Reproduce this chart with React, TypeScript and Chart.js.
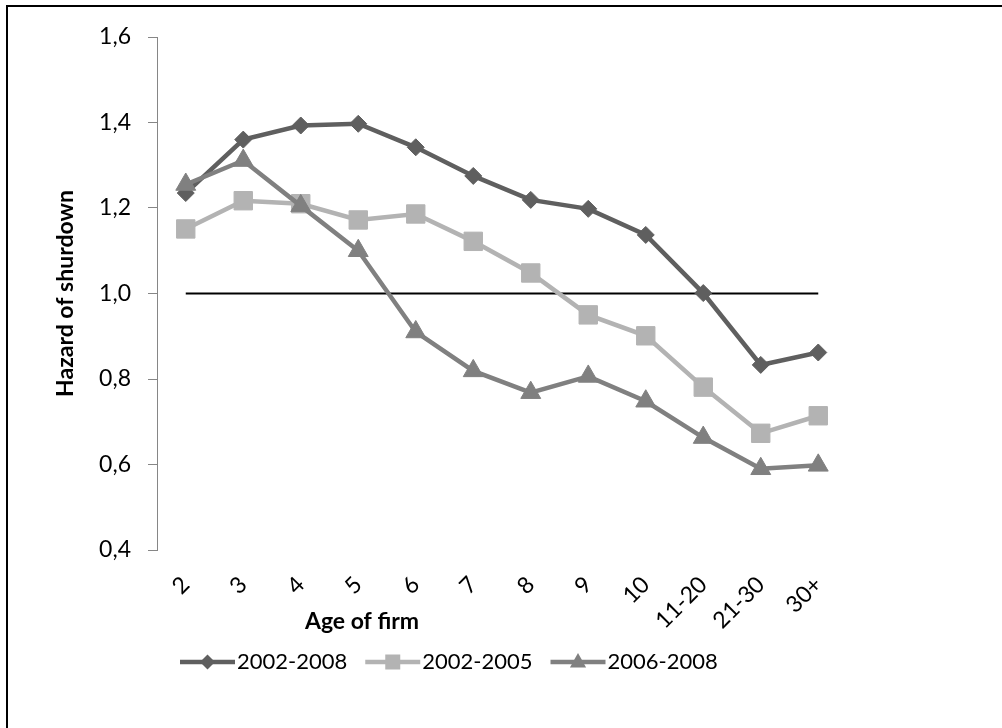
import React, { useEffect, useRef } from "react";
import { Chart, registerables } from "chart.js";

Chart.register(...registerables);

const categories = ["2", "3", "4", "5", "6", "7", "8", "9", "10", "11-20", "21-30", "30+"];
const series2002_2008 = [1.235, 1.36, 1.393, 1.397, 1.342, 1.275, 1.219, 1.198, 1.137, 1.001, 0.833, 0.862];
const series2002_2005 = [1.151, 1.217, 1.21, 1.172, 1.186, 1.122, 1.048, 0.95, 0.901, 0.781, 0.673, 0.714];
const series2006_2008 = [1.255, 1.311, 1.205, 1.1, 0.91, 0.819, 0.768, 0.806, 0.748, 0.663, 0.59, 0.598];
const referenceLine = [1, 1, 1, 1, 1, 1, 1, 1, 1, 1, 1, 1];
const seriesNames = ["2002-2008", "2002-2005", "2006-2008"];
const yMin = 0.4;
const yMax = 1.6;
const yStep = 0.2;
const yTitle = "Hazard of shurdown";
const xTitle = "Age of firm";

const FONT = "Lato, 'Open Sans', sans-serif";
const C1 = "#5f5f5f";
const C2 = "#b3b3b3";
const C3 = "#808080";

function drawMarker(ctx: CanvasRenderingContext2D, style: string, x: number, y: number, r: number, color: string) {
  ctx.save();
  ctx.fillStyle = color;
  ctx.beginPath();
  if (style === "rectRot") {
    ctx.moveTo(x, y - r);
    ctx.lineTo(x + r, y);
    ctx.lineTo(x, y + r);
    ctx.lineTo(x - r, y);
  } else if (style === "rect") {
    ctx.rect(x - r, y - r, 2 * r, 2 * r);
  } else {
    ctx.moveTo(x, y - r);
    ctx.lineTo(x + r * 0.9, y + r * 0.6);
    ctx.lineTo(x - r * 0.9, y + r * 0.6);
  }
  ctx.closePath();
  ctx.fill();
  ctx.restore();
}

const extrasPlugin = {
  id: "extras",
  afterDraw(chart: any) {
    const ctx: CanvasRenderingContext2D = chart.ctx;
    ctx.save();
    ctx.font = `bold 23px ${FONT}`;
    ctx.fillStyle = "#000";
    ctx.textAlign = "center";
    ctx.textBaseline = "middle";
    ctx.fillText(xTitle, 362, 622);
    ctx.font = `22px ${FONT}`;
    ctx.textAlign = "left";
    let x = 180;
    const y = 662;
    const legendSizes = [7.5, 7.5, 9];
    for (let i = 0; i < seriesNames.length; i++) {
      const ds = chart.data.datasets[i];
      ctx.strokeStyle = ds.borderColor;
      ctx.lineWidth = 4.5;
      ctx.beginPath();
      ctx.moveTo(x, y);
      ctx.lineTo(x + 55, y);
      ctx.stroke();
      drawMarker(ctx, ds.pointStyle, x + 27.5, y, legendSizes[i], ds.borderColor);
      ctx.fillStyle = "#000";
      ctx.fillText(ds.label, x + 57, y);
      x += 57 + ctx.measureText(ds.label).width + 18;
    }
    ctx.restore();
  },
};

export default function App() {
  const ref = useRef<HTMLCanvasElement | null>(null);
  useEffect(() => {
    if (!ref.current) return;
    const chart = new Chart(ref.current, {
      type: "line",
      data: {
        labels: categories,
        datasets: [
          {
            label: seriesNames[0],
            data: series2002_2008,
            borderColor: C1,
            backgroundColor: C1,
            borderWidth: 4.5,
            pointStyle: "rectRot",
            pointRadius: 8.5,
            pointBorderWidth: 1,
            pointBackgroundColor: C1,
            pointBorderColor: C1,
            order: 3,
          },
          {
            label: seriesNames[1],
            data: series2002_2005,
            borderColor: C2,
            backgroundColor: C2,
            borderWidth: 4.5,
            pointStyle: "rect",
            pointRadius: 13,
            pointBorderWidth: 1,
            pointBackgroundColor: C2,
            pointBorderColor: C2,
            order: 2,
          },
          {
            label: seriesNames[2],
            data: series2006_2008,
            borderColor: C3,
            backgroundColor: C3,
            borderWidth: 4.5,
            pointStyle: "triangle",
            pointRadius: 11.5,
            pointBorderWidth: 1,
            pointBackgroundColor: C3,
            pointBorderColor: C3,
            order: 1,
          },
          {
            label: "ref",
            data: referenceLine,
            borderColor: "#000",
            borderWidth: 2,
            pointRadius: 0,
            order: 4,
          },
        ],
      },
      options: {
        responsive: false,
        animation: false,
        layout: { padding: { left: 52, right: 155, top: 37, bottom: 0 } },
        plugins: {
          legend: { display: false },
          tooltip: { enabled: false },
          title: { display: false },
        },
        scales: {
          x: {
            offset: true,
            grid: { display: false, offset: true },
            border: { display: false },
            ticks: {
              color: "#000",
              font: { family: FONT, size: 23 },
              minRotation: 45,
              maxRotation: 45,
              autoSkip: false,
              padding: 13,
            },
            afterFit: (s: any) => {
              s.height = 178;
            },
          },
          y: {
            min: yMin,
            max: yMax,
            grid: { display: true, drawOnChartArea: false, drawTicks: true, tickLength: 9, color: "#868686" },
            border: { display: true, color: "#868686", width: 1 },
            ticks: {
              stepSize: yStep,
              color: "#000",
              font: { family: FONT, size: 23 },
              padding: 17,
              callback: (v: any) => Number(v).toFixed(1).replace(".", ","),
            },
            title: {
              display: true,
              text: yTitle,
              color: "#000",
              font: { family: FONT, size: 23, weight: "bold" },
              padding: 0,
            },
            afterFit: (s: any) => {
              s.width = 105;
            },
          },
        },
      },
      plugins: [extrasPlugin],
    });
    return () => chart.destroy();
  }, []);
  return (
    <div style={{ position: "absolute", left: 0, top: 0, width: 1002, height: 728, background: "#fff" }}>
      <canvas ref={ref} width={1002} height={728} style={{ position: "absolute", left: 0, top: 0 }} />
      <div
        style={{
          position: "absolute",
          left: 6,
          top: 5,
          width: 996,
          height: 723,
          borderTop: "2px solid #000",
          borderLeft: "2px solid #000",
          boxSizing: "border-box",
          pointerEvents: "none",
        }}
      />
    </div>
  );
}
